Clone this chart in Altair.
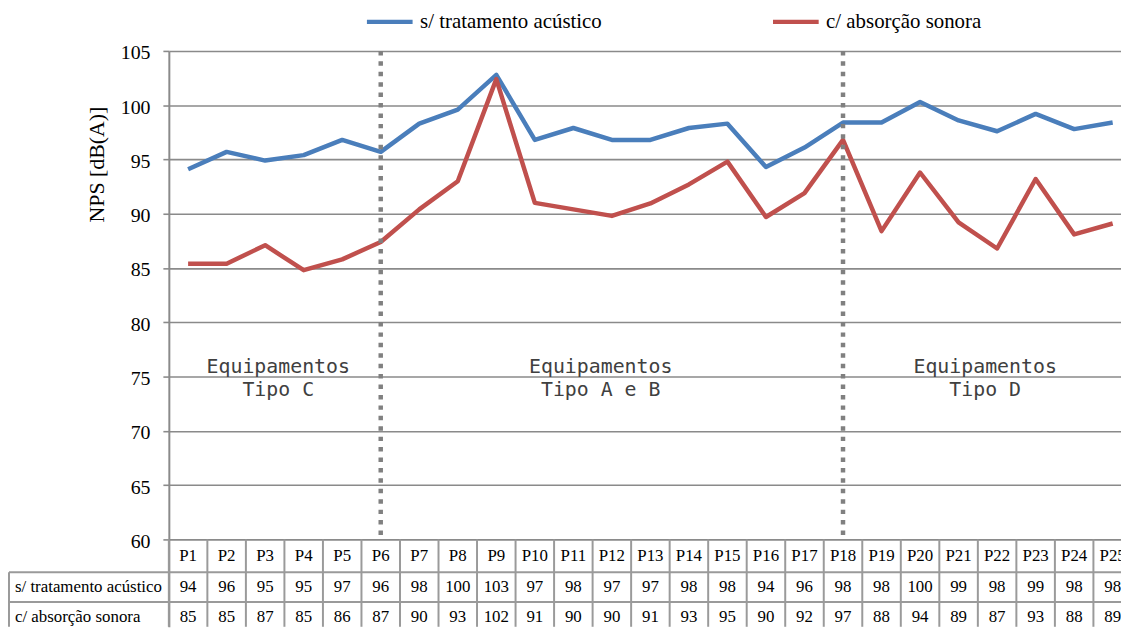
import altair as alt
import pandas as pd

# ---------------- data ----------------
categories = [f"P{i}" for i in range(1, 26)]
series_names = ["s/ tratamento acústico", "c/ absorção sonora"]
series_colors = ["#4a7ebb", "#c0504d"]

serie_sem = [94.1, 95.7, 94.9, 95.4, 96.8, 95.7, 98.3, 99.6, 102.8, 96.8,
             97.9, 96.8, 96.8, 97.9, 98.3, 94.3, 96.1, 98.4, 98.4, 100.3,
             98.6, 97.6, 99.2, 97.8, 98.4]
serie_com = [85.4, 85.4, 87.1, 84.8, 85.8, 87.4, 90.4, 93.0, 102.4, 91.0,
             90.4, 89.8, 90.95, 92.7, 94.8, 89.7, 91.9, 96.8, 88.4, 93.8,
             89.2, 86.8, 93.2, 88.1, 89.1]

tabela_sem = ["94", "96", "95", "95", "97", "96", "98", "100", "103", "97",
              "98", "97", "97", "98", "98", "94", "96", "98", "98", "100",
              "99", "98", "99", "98", "98"]
tabela_com = ["85", "85", "87", "85", "86", "87", "90", "93", "102", "91",
              "90", "90", "91", "93", "95", "90", "92", "97", "88", "94",
              "89", "87", "93", "88", "89"]

y_ticks = [60, 65, 70, 75, 80, 85, 90, 95, 100, 105]
divisores = [6, 18]
annot_text = ["Equipamentos", "Tipo C", "Equipamentos", "Tipo A e B",
              "Equipamentos", "Tipo D"]
annot_x = [3.34, 3.34, 11.71, 11.71, 21.69, 21.69]
annot_y = [75.9, 73.8, 75.9, 73.8, 75.9, 73.8]

# ---------------- layout ----------------
W, H = 959, 580
X_MIN, X_MAX = 0.5, 25.216
Y_MIN, Y_MAX = 51.95, 105
SERIF = "'Liberation Serif', 'Times New Roman', Times, serif"
GRID = "#8a8a8a"
TAB = "#9a9a9a"

HDR_TOP, HDR_BOT, ROW2_BOT = 492, 525, 555
HDR_MID, ROW2_MID, ROW3_MID = 508.5, 540, 570
LEFT_EDGE = -161

idx = list(range(1, 26))
df_lines = pd.DataFrame({
    "idx": idx * 2,
    "cat": categories * 2,
    "serie": [series_names[0]] * 25 + [series_names[1]] * 25,
    "value": serie_sem + serie_com,
})
df_cat = pd.DataFrame({"idx": idx, "cat": categories,
                       "sem": tabela_sem, "com": tabela_com})
df_div = pd.DataFrame({"idx": divisores, "top": [Y_MAX] * 2, "bot": [60] * 2})
df_annot = pd.DataFrame({"x": annot_x, "y": annot_y, "t": annot_text})
df_bound = pd.DataFrame({"b": [i - 0.5 for i in idx]})
one = pd.DataFrame({"k": [0]})

xs = alt.Scale(domain=[X_MIN, X_MAX], nice=False, zero=False)
ys = alt.Scale(domain=[Y_MIN, Y_MAX], nice=False, zero=False)

lines = alt.Chart(df_lines).mark_line(
    strokeWidth=4.5, strokeJoin="round", clip=True
).encode(
    x=alt.X("idx:Q", scale=xs, axis=None),
    y=alt.Y("value:Q", scale=ys, axis=alt.Axis(
        values=y_ticks, title="NPS [dB(A)]", grid=True,
        gridColor=GRID, gridWidth=1.6,
        domainColor=GRID, domainWidth=2,
        tickColor=GRID, tickWidth=1.6, tickSize=6,
        labelFont=SERIF, labelFontSize=20, labelColor="#000000",
        labelPadding=13, labelOffset=2,
        titleFont=SERIF, titleFontSize=22, titleFontWeight="normal",
        titleColor="#000000", titleX=-73, titleY=114,
        titleAlign="center", titleBaseline="middle", titleAngle=270,
    )),
    color=alt.Color("serie:N", scale=alt.Scale(domain=series_names, range=series_colors),
                    legend=alt.Legend(
                        orient="none", legendX=197, legendY=-55,
                        direction="horizontal", title=None,
                        symbolType="stroke", symbolSize=2116, symbolStrokeWidth=4.5,
                        labelFont=SERIF, labelFontSize=21, labelColor="#000000",
                        labelOffset=5, columnPadding=162, padding=0, labelLimit=0,
                    )),
)

divs = alt.Chart(df_div).mark_rule(
    color="#808080", strokeWidth=4.5, strokeDash=[4.5, 6]
).encode(
    x=alt.X("idx:Q", scale=xs),
    y=alt.Y("top:Q", scale=ys),
    y2="bot:Q",
)

annots = alt.Chart(df_annot).mark_text(
    font="DejaVu Sans Mono", fontSize=20, color="#404040", baseline="middle"
).encode(
    x=alt.X("x:Q", scale=xs),
    y=alt.Y("y:Q", scale=ys),
    text="t:N",
)

# table
vlines = alt.Chart(df_bound).mark_rule(color=TAB, strokeWidth=2).encode(
    x=alt.X("b:Q", scale=xs),
    y=alt.value(HDR_TOP), y2=alt.value(H),
)
hl1 = alt.Chart(one).mark_rule(color=TAB, strokeWidth=2).encode(
    x=alt.value(LEFT_EDGE), x2=alt.value(W), y=alt.value(HDR_BOT))
hl2 = alt.Chart(one).mark_rule(color=TAB, strokeWidth=2).encode(
    x=alt.value(LEFT_EDGE), x2=alt.value(W), y=alt.value(ROW2_BOT))
lborder = alt.Chart(one).mark_rule(color=TAB, strokeWidth=2).encode(
    x=alt.value(LEFT_EDGE), y=alt.value(HDR_BOT), y2=alt.value(H))

hdr = alt.Chart(df_cat).mark_text(font=SERIF, fontSize=17, color="#000000",
                                  baseline="middle", clip=True).encode(
    x=alt.X("idx:Q", scale=xs), y=alt.value(HDR_MID), text="cat:N")
row2 = alt.Chart(df_cat).mark_text(font=SERIF, fontSize=17, color="#000000",
                                   baseline="middle", clip=True).encode(
    x=alt.X("idx:Q", scale=xs), y=alt.value(ROW2_MID), text="sem:N")
row3 = alt.Chart(df_cat).mark_text(font=SERIF, fontSize=17, color="#000000",
                                   baseline="middle", clip=True).encode(
    x=alt.X("idx:Q", scale=xs), y=alt.value(ROW3_MID), text="com:N")

lab2 = alt.Chart(one).mark_text(font=SERIF, fontSize=17, color="#000000",
                                align="left", baseline="middle").encode(
    x=alt.value(-155), y=alt.value(ROW2_MID), text=alt.value(series_names[0]))
lab3 = alt.Chart(one).mark_text(font=SERIF, fontSize=17, color="#000000",
                                align="left", baseline="middle").encode(
    x=alt.value(-155), y=alt.value(ROW3_MID), text=alt.value("c/ absorção  sonora"))

chart = alt.layer(
    lines, divs, annots, vlines, hl1, hl2, lborder, hdr, row2, row3, lab2, lab3
).properties(
    width=W, height=H,
    autosize=alt.AutoSizeParams(type="none"),
    padding={"left": 162, "top": 41, "right": 0, "bottom": 0},
    background="#ffffff",
).configure(
    font=SERIF
).configure_axis(
    labelFont=SERIF, titleFont=SERIF
).configure_legend(
    labelFont=SERIF
).configure_view(stroke=None)

chart.save("out.html", embed_options={"renderer": "svg", "actions": False})
